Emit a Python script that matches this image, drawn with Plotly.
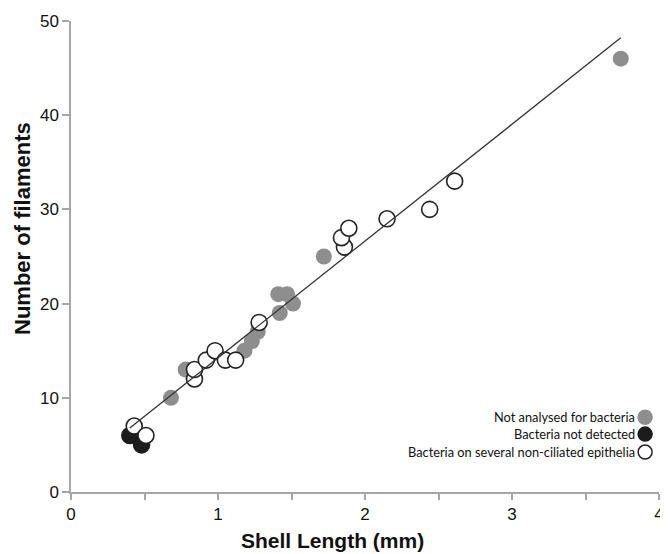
import plotly.graph_objects as go

# ---- data ----
gray_x = [0.68, 0.78, 1.18, 1.23, 1.27, 1.41, 1.47, 1.42, 1.51, 1.72, 3.74]
gray_y = [10, 13, 15, 16, 17, 21, 21, 19, 20, 25, 46]

black_x = [0.40, 0.48]
black_y = [6, 5]

white_x = [0.43, 0.51, 0.84, 0.84, 0.92, 0.98, 1.05, 1.12, 1.28, 1.86, 1.84, 1.89, 2.15, 2.44, 2.61]
white_y = [7, 6, 12, 13, 14, 15, 14, 14, 18, 26, 27, 28, 29, 30, 33]

trend_slope = 12.4
trend_intercept = 1.84
trend_x = [0.40, 3.74]

x_tickvals = [0, 0.5, 1, 1.5, 2, 2.5, 3, 3.5, 4]
x_ticktext = ["0", "", "1", "", "2", "", "3", "", "4"]
y_tickvals = [0, 10, 20, 30, 40, 50]

legend_labels = ["Not analysed for bacteria", "Bacteria not detected",
                 "Bacteria on several non-ciliated epithelia"]

# ---- styles ----
GRAY = "#8e8e8e"
BLACK = "#1c1c1c"
EDGE = "#222222"
AXIS = "#a6a6a6"

# page has an 8px body margin; figure sized to fill the window
OFF = 8
L, R, T, B = 71 - OFF, 4, 20 - OFF, 62
W, H = 668 - OFF, 554 - OFF
PW = W - L - R
PH = H - T - B

def px_x(xpage):
    return (xpage - OFF - L) / PW

def px_y(ypage):
    return (H - B - (ypage - OFF)) / PH

fig = go.Figure()
fig.add_trace(go.Scatter(x=gray_x, y=gray_y, mode="markers",
                         marker=dict(size=16, color=GRAY, line=dict(width=0)),
                         showlegend=False))
fig.add_trace(go.Scatter(x=black_x, y=black_y, mode="markers",
                         marker=dict(size=16, color=BLACK, line=dict(width=1.5, color=BLACK)),
                         showlegend=False))
fig.add_trace(go.Scatter(x=white_x, y=white_y, mode="markers",
                         marker=dict(size=16, color="white", line=dict(width=1.6, color=EDGE)),
                         showlegend=False))
trend_y = [trend_intercept + trend_slope * v for v in trend_x]
fig.add_trace(go.Scatter(x=trend_x, y=trend_y, mode="lines",
                         line=dict(color="#333333", width=1.3), showlegend=False))

# custom legend (text right-aligned, marker on the right)
legend_colors = [(GRAY, GRAY), (BLACK, BLACK), ("white", EDGE)]
legend_y_px = [417, 434, 452]
for lab, (fc, lc), ypx in zip(legend_labels, legend_colors, legend_y_px):
    yp = px_y(ypx)
    fig.add_annotation(xref="paper", yref="paper", x=px_x(642), y=yp,
                       text=lab, showarrow=False, xanchor="right", yanchor="middle",
                       font=dict(family="Lato, Liberation Sans, sans-serif", size=12.8, color="#111"))
    fig.add_shape(type="circle", xref="paper", yref="paper",
                  xsizemode="pixel", ysizemode="pixel",
                  xanchor=px_x(650), yanchor=yp,
                  x0=-7, x1=7, y0=-7, y1=7,
                  fillcolor=fc, line=dict(color=lc, width=1.5))

# axis titles
fig.add_annotation(xref="paper", yref="paper", x=px_x(335), y=px_y(541),
                   text="<b>Shell Length (mm)</b>", showarrow=False,
                   xanchor="center", yanchor="middle",
                   font=dict(family="Liberation Sans, Arial, sans-serif", size=21, color="#111"))
fig.add_annotation(xref="paper", yref="paper", x=px_x(22), y=px_y(228),
                   text="<b>Number of filaments</b>", showarrow=False, textangle=-90,
                   xanchor="center", yanchor="middle",
                   font=dict(family="Liberation Sans, Arial, sans-serif", size=22, color="#111"))

fig.update_xaxes(range=[0, 4], tickvals=x_tickvals, ticktext=x_ticktext,
                 ticklabeloverflow="allow",
                 showgrid=False, zeroline=False, showline=True, linecolor=AXIS, linewidth=1.5,
                 ticks="outside", ticklen=6, tickcolor=AXIS, tickwidth=1.5,
                 tickfont=dict(family="Liberation Sans, Arial, sans-serif", size=17, color="#111"))
fig.update_yaxes(range=[0, 50], tickvals=y_tickvals,
                 showgrid=False, zeroline=False, showline=True, linecolor=AXIS, linewidth=1.5,
                 ticks="outside", ticklen=7, tickcolor=AXIS, tickwidth=1.5,
                 tickfont=dict(family="Liberation Sans, Arial, sans-serif", size=17, color="#111"))

fig.update_layout(width=W, height=H, margin=dict(l=L, r=R, t=T, b=B),
                  plot_bgcolor="white", paper_bgcolor="white")

fig.write_html("out.html")
